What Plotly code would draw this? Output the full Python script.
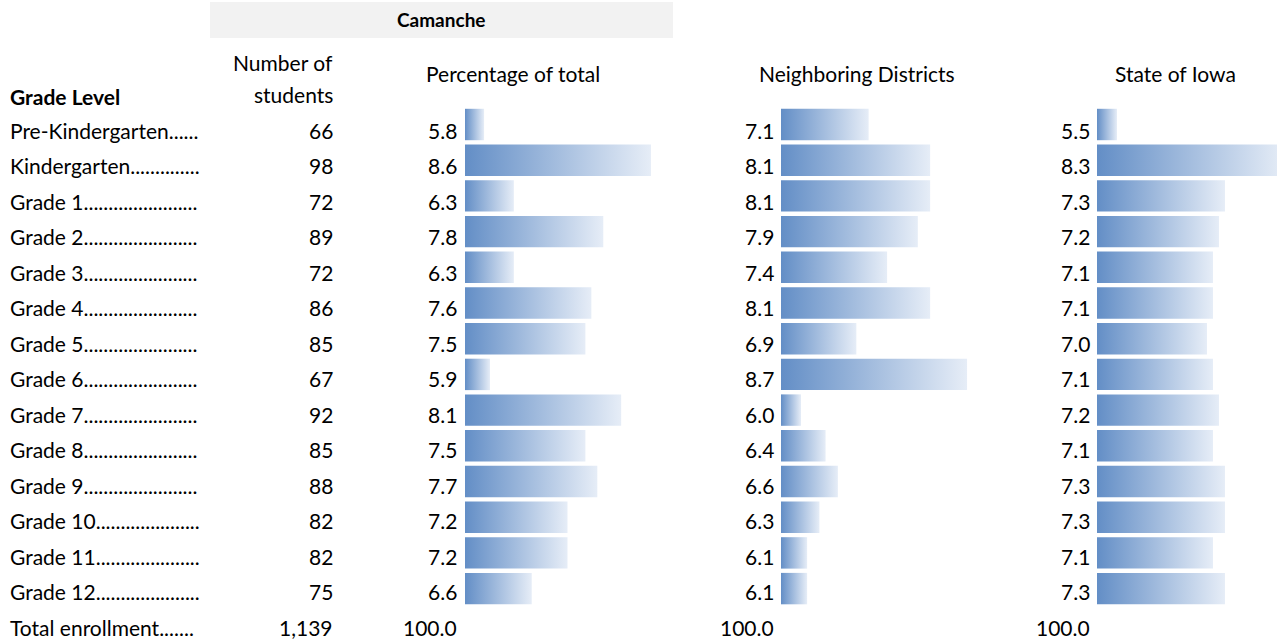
import plotly.graph_objects as go

# ---------------- data ----------------
grade_labels = [
    "Pre-Kindergarten......",
    "Kindergarten..............",
    "Grade 1.......................",
    "Grade 2.......................",
    "Grade 3.......................",
    "Grade 4.......................",
    "Grade 5.......................",
    "Grade 6.......................",
    "Grade 7.......................",
    "Grade 8.......................",
    "Grade 9.......................",
    "Grade 10.....................",
    "Grade 11.....................",
    "Grade 12.....................",
]
total_label = "Total enrollment......."
students = [66, 98, 72, 89, 72, 86, 85, 67, 92, 85, 88, 82, 82, 75]
students_total = "1,139"
pct_camanche = [5.8, 8.6, 6.3, 7.8, 6.3, 7.6, 7.5, 5.9, 8.1, 7.5, 7.7, 7.2, 7.2, 6.6]
pct_neighbor = [7.1, 8.1, 8.1, 7.9, 7.4, 8.1, 6.9, 8.7, 6.0, 6.4, 6.6, 6.3, 6.1, 6.1]
pct_state = [5.5, 8.3, 7.3, 7.2, 7.1, 7.1, 7.0, 7.1, 7.2, 7.1, 7.3, 7.3, 7.1, 7.3]
pct_total = "100.0"

header_group = "Camanche"
header_grade = "Grade Level"
header_students = ["Number of", "students"]
header_cols = ["Percentage of total", "Neighboring Districts", "State of Iowa"]

# ---------------- layout helpers ----------------
W, H = 1277, 644
ROW0_PX, ROW_PX = 124.5, 35.7     # bar rows
TEXT0_PX, TEXT_PX = 130.0, 35.5   # text rows (bottom-aligned cells)
FONT = "Lato"
FS = 21
TXT = "#000000"
BAR_HALF = 0.44


def px_to_row(p):
    return (p - ROW0_PX) / ROW_PX


def px_to_paper_y(p):
    return 1 - p / H


def text_row_y(i):
    return px_to_row(TEXT0_PX + TEXT_PX * i)


# columns: (values, axis name, left px, right px, axis start value, px per unit, label right px)
columns = [
    (pct_camanche, "x", 465, 690, 5.48, 59.6, 458),
    (pct_neighbor, "x2", 781, 1000, 5.675, 61.5, 775),
    (pct_state, "x3", 1097, W, 5.167, 60.0, 1091),
]

fig = go.Figure()
grad = [[0, "#638EC6"], [1, "#E6EDF7"]]

for vals, ax, lpx, rpx, v0, scale, _ in columns:
    for i, v in enumerate(vals):
        fig.add_trace(go.Scatter(
            x=[v0, v, v, v0, v0],
            y=[i - BAR_HALF, i - BAR_HALF, i + BAR_HALF, i + BAR_HALF, i - BAR_HALF],
            xaxis=ax, yaxis="y",
            mode="lines", line=dict(width=0),
            fill="toself",
            fillgradient=dict(type="horizontal", colorscale=grad),
            hoverinfo="skip", showlegend=False,
        ))

layout_axes = {}
for k, (vals, ax, lpx, rpx, v0, scale, _) in enumerate(columns):
    name = "xaxis" if ax == "x" else "xaxis" + ax[1:]
    layout_axes[name] = dict(
        domain=[lpx / W, rpx / W],
        range=[v0, v0 + (rpx - lpx) / scale],
        visible=False, fixedrange=True, anchor="y",
    )

annotations = []


def text(x, y, s, xanchor="left", bold=False, yref="y", size=FS):
    annotations.append(dict(
        x=x / W, xref="paper", y=y, yref=yref, text=("<b>%s</b>" % s) if bold else s,
        xanchor=xanchor, yanchor="middle", showarrow=False, borderpad=0,
        font=dict(family=FONT, size=size, color=TXT), align="right" if xanchor == "right" else "left",
    ))


n = len(grade_labels)
for i in range(n):
    ty = text_row_y(i)
    text(9, ty, grade_labels[i])
    text(334, ty, str(students[i]), xanchor="right")
    for vals, ax, lpx, rpx, v0, scale, lab in columns:
        text(lab, ty, "%.1f" % vals[i], xanchor="right")

ty = text_row_y(n)
text(9, ty, total_label)
text(334, ty, students_total, xanchor="right")
for vals, ax, lpx, rpx, v0, scale, lab in columns:
    text(lab, ty, pct_total, xanchor="right")

# headers
text(441, px_to_paper_y(20), header_group, xanchor="center", bold=True, yref="paper", size=19)
text(9, px_to_paper_y(96), header_grade, bold=True, yref="paper")
text(334, px_to_paper_y(63), header_students[0], xanchor="right", yref="paper")
text(334, px_to_paper_y(95), header_students[1], xanchor="right", yref="paper")
for (vals, ax, lpx, rpx, v0, scale, lab), cx, h in zip(columns, [513, 857, 1175], header_cols):
    text(cx, px_to_paper_y(74), h, xanchor="center", yref="paper")

shapes = [dict(
    type="rect", xref="paper", yref="paper",
    x0=210 / W, x1=673 / W, y0=px_to_paper_y(38), y1=px_to_paper_y(2),
    fillcolor="#F2F2F2", line=dict(width=0), layer="below",
)]

fig.update_layout(
    width=W, height=H,
    margin=dict(l=0, r=0, t=0, b=0),
    paper_bgcolor="white", plot_bgcolor="white",
    yaxis=dict(range=[px_to_row(H), px_to_row(0)], visible=False, fixedrange=True, domain=[0, 1]),
    annotations=annotations,
    shapes=shapes,
    showlegend=False,
    **layout_axes,
)

fig.write_html(
    "out.html",
    config={"displayModeBar": False},
    post_script="document.body.style.margin='0';document.body.style.overflow='hidden';",
)
